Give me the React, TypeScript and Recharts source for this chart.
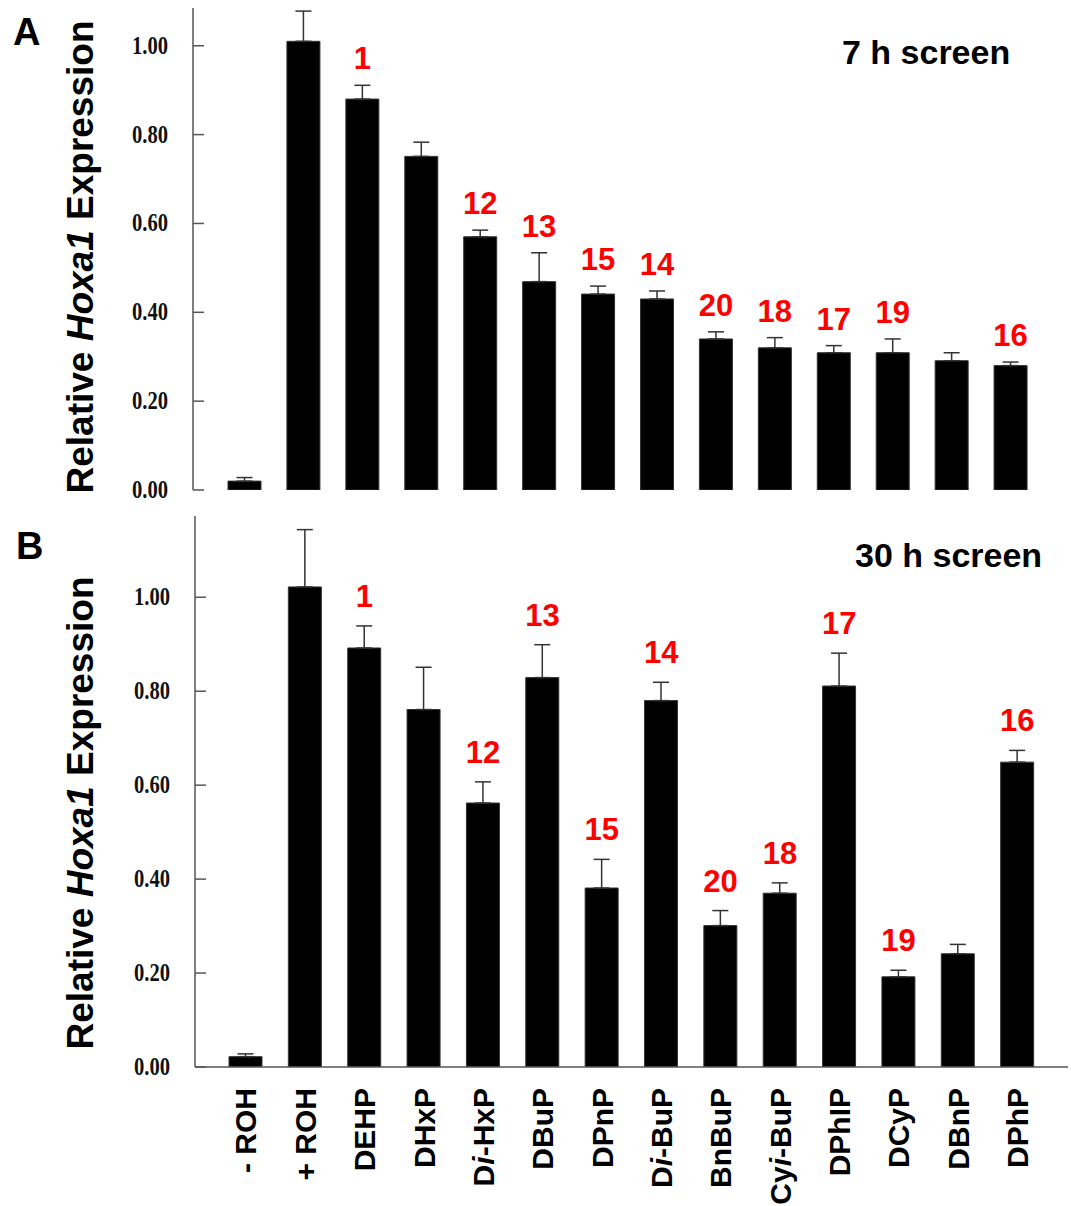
import { ComposedChart, Bar, Line, XAxis, YAxis, ErrorBar, LabelList } from "recharts";

const categories = [
  "- ROH", "+ ROH", "DEHP", "DHxP", "Di-HxP", "DBuP", "DPnP",
  "Di-BuP", "BnBuP", "Cyi-BuP", "DPhIP", "DCyP", "DBnP", "DPhP",
];
const compoundIds = ["", "", "1", "", "12", "13", "15", "14", "20", "18", "17", "19", "", "16"];

const screen7h = [0.02, 1.01, 0.88, 0.751, 0.57, 0.469, 0.441, 0.43, 0.34, 0.32, 0.309, 0.309, 0.291, 0.28];
const screen7hErr = [0.008, 0.068, 0.031, 0.032, 0.015, 0.065, 0.018, 0.018, 0.016, 0.023, 0.016, 0.031, 0.018, 0.008];

const screen30h = [0.022, 1.022, 0.892, 0.761, 0.562, 0.829, 0.381, 0.78, 0.301, 0.37, 0.811, 0.192, 0.241, 0.649];
const screen30hErr = [0.006, 0.122, 0.047, 0.09, 0.045, 0.07, 0.061, 0.039, 0.032, 0.022, 0.07, 0.014, 0.02, 0.025];

const yTicks = [0, 0.2, 0.4, 0.6, 0.8, 1.0];

const SANS = '"Liberation Sans", Arial, sans-serif';
const SERIF = '"Liberation Serif", "Times New Roman", serif';

function buildRows(values: number[], errs: number[]) {
  return categories.map((name, i) => ({
    name,
    value: values[i],
    err: [0, errs[i]],
    top: values[i] + errs[i],
    label: compoundIds[i],
  }));
}

const YTick = (props: any) => {
  const { x, y, payload } = props;
  return (
    <g>
      <line x1={x} x2={x + 11} y1={y} y2={y} stroke="#555" strokeWidth={1.5} />
      <text
        x={x - 25}
        y={y}
        dy={8}
        textAnchor="end"
        fontFamily={SERIF}
        fontWeight="bold"
        fontSize={25}
        textLength={36}
        lengthAdjust="spacingAndGlyphs"
        fill="#111"
      >
        {payload.value.toFixed(2)}
      </text>
    </g>
  );
};

const XTick = (props: any) => {
  const { x, y, payload } = props;
  const text: string = payload.value;
  const m = text.match(/^(.*?)(i)(-.*)$/);
  return (
    <g transform={`translate(${x},${y + 21}) rotate(-90)`}>
      <text textAnchor="end" dy="0.36em" fontFamily={SANS} fontWeight="bold" fontSize={30} fill="#000">
        {m ? (
          <>
            <tspan>{m[1]}</tspan>
            <tspan fontStyle="italic">{m[2]}</tspan>
            <tspan>{m[3]}</tspan>
          </>
        ) : (
          text
        )}
      </text>
    </g>
  );
};

const makeIdLabel = (offset: number) => (props: any) => {
  const vb = props.viewBox || {};
  const x = props.x ?? vb.x;
  const y = props.y ?? vb.y;
  if (!props.value) return null;
  return (
    <text x={x} y={y - offset} textAnchor="middle" fontFamily={SANS} fontWeight="bold" fontSize={31} fill="#ff0000">
      {props.value}
    </text>
  );
};

const yTitle = (cy: number) => () => (
  <text
    transform={`translate(93, ${cy}) rotate(-90)`}
    textAnchor="middle"
    fontFamily={SANS}
    fontWeight="bold"
    fontSize={37}
    fill="#000"
  >
    Relative <tspan fontStyle="italic">Hoxa1</tspan> Expression
  </text>
);

interface PanelProps {
  values: number[];
  errs: number[];
  height: number;
  top: number;
  margin: { top: number; right: number; bottom: number; left: number };
  domainMax: number;
  padding: { left: number; right: number };
  showCategories: boolean;
  labelOffset: number;
  titleCenter: number;
}

function Panel({ values, errs, height, top, margin, domainMax, padding, showCategories, labelOffset, titleCenter }: PanelProps) {
  const rows = buildRows(values, errs);
  return (
    <div style={{ position: "absolute", left: 0, top }}>
      <ComposedChart width={1071} height={height} data={rows} margin={margin} style={{ overflow: "visible" }}>
        <XAxis
          dataKey="name"
          interval={0}
          padding={padding}
          height={showCategories ? 139 : 0}
          tick={showCategories ? <XTick /> : false}
          tickLine={false}
          tickSize={0}
          tickMargin={0}
          axisLine={{ stroke: "#555", strokeWidth: 1.5 }}
        />
        <YAxis
          width={73}
          domain={[0, domainMax]}
          allowDataOverflow={true}
          ticks={yTicks}
          interval={0}
          tick={<YTick />}
          tickLine={false}
          tickSize={0}
          tickMargin={0}
          axisLine={{ stroke: "#555", strokeWidth: 1.5 }}
          label={{ content: yTitle(titleCenter) }}
        />
        <Bar dataKey="value" fill="#000" stroke="#333" strokeWidth={1} barSize={33} isAnimationActive={false}>
          <ErrorBar dataKey="err" direction="y" width={8} stroke="#333" strokeWidth={1.5} />
        </Bar>
        <Line
          dataKey="top"
          stroke="none"
          dot={false}
          activeDot={false}
          legendType="none"
          isAnimationActive={false}
        >
          <LabelList dataKey="label" content={makeIdLabel(labelOffset)} />
        </Line>
      </ComposedChart>
    </div>
  );
}

export default function App() {
  return (
    <div style={{ position: "absolute", left: 0, top: 0, width: 1071, height: 1206, background: "#fff" }}>
      <Panel
        values={screen7h}
        errs={screen7hErr}
        top={0}
        height={512}
        margin={{ top: 8, right: 17, bottom: 22, left: 120 }}
        domainMax={1.085}
        padding={{ left: 22, right: 14 }}
        showCategories={false}
        labelOffset={16}
        titleCenter={257}
      />
      <Panel
        values={screen30h}
        errs={screen30hErr}
        top={500}
        height={706}
        margin={{ top: 16, right: 3, bottom: 0, left: 122 }}
        domainMax={1.173}
        padding={{ left: 21, right: 21 }}
        showCategories={true}
        labelOffset={19}
        titleCenter={313}
      />
      <svg
        width={1071}
        height={1206}
        style={{ position: "absolute", left: 0, top: 0, pointerEvents: "none" }}
      >
        <text x={13} y={45} fontFamily={SANS} fontWeight="bold" fontSize={38}>A</text>
        <text x={16} y={559} fontFamily={SANS} fontWeight="bold" fontSize={38}>B</text>
        <text x={842} y={64} fontFamily={SANS} fontWeight="bold" fontSize={34}>7 h screen</text>
        <text x={855} y={567} fontFamily={SANS} fontWeight="bold" fontSize={34}>30 h screen</text>
      </svg>
    </div>
  );
}
